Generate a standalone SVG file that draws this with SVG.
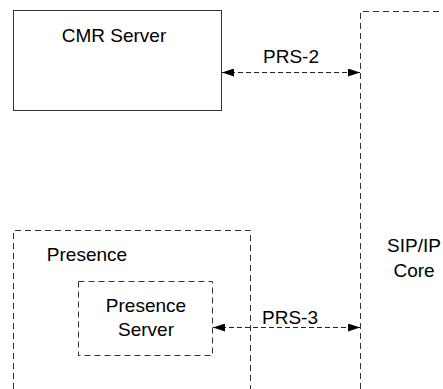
<svg xmlns="http://www.w3.org/2000/svg" width="443" height="389" viewBox="0 0 443 389">
<style>
.t{font-family:"Liberation Sans",Arial,sans-serif;font-size:19px;fill:#000;text-anchor:middle}
.solid{fill:#fff;stroke:#333;stroke-width:1}
.dash{fill:none;stroke:#333;stroke-width:1;stroke-dasharray:6,4}
.conn{fill:none;stroke:#222;stroke-width:1;stroke-dasharray:5,3}
</style>
<defs>
<marker id="ah" viewBox="0 0 12 8" refX="12" refY="4" markerWidth="12" markerHeight="8" markerUnits="userSpaceOnUse" orient="auto-start-reverse">
<path d="M0,0 L12,4 L0,8 Z" fill="#000"/>
</marker>
</defs>
<rect width="443" height="389" fill="#fff"/>
<g id="cmr-server">
<rect class="solid" x="13.5" y="10.5" width="208" height="100"/>
<text class="t" x="114" y="42">CMR Server</text>
</g>
<g id="sip-ip-core">
<path class="dash" d="M360.5,389 L360.5,11.5 L443,11.5"/>
<text class="t" x="414" y="252">SIP/IP</text>
<text class="t" x="414" y="277">Core</text>
</g>
<g id="presence">
<path class="dash" d="M13.5,389 L13.5,230.5 L250.5,230.5 L250.5,389"/>
<text class="t" x="87" y="261">Presence</text>
</g>
<g id="presence-server">
<rect class="dash" x="78.5" y="281.5" width="134" height="74"/>
<text class="t" x="146" y="312">Presence</text>
<text class="t" x="146" y="336">Server</text>
</g>
<g id="connectors">
<line class="conn" x1="222" y1="72.5" x2="360" y2="72.5" marker-start="url(#ah)" marker-end="url(#ah)"/>
<text class="t" x="291" y="63">PRS-2</text>
<line class="conn" x1="213" y1="327.5" x2="360" y2="327.5" marker-start="url(#ah)" marker-end="url(#ah)"/>
<text class="t" x="290" y="324">PRS-3</text>
</g>
</svg>
